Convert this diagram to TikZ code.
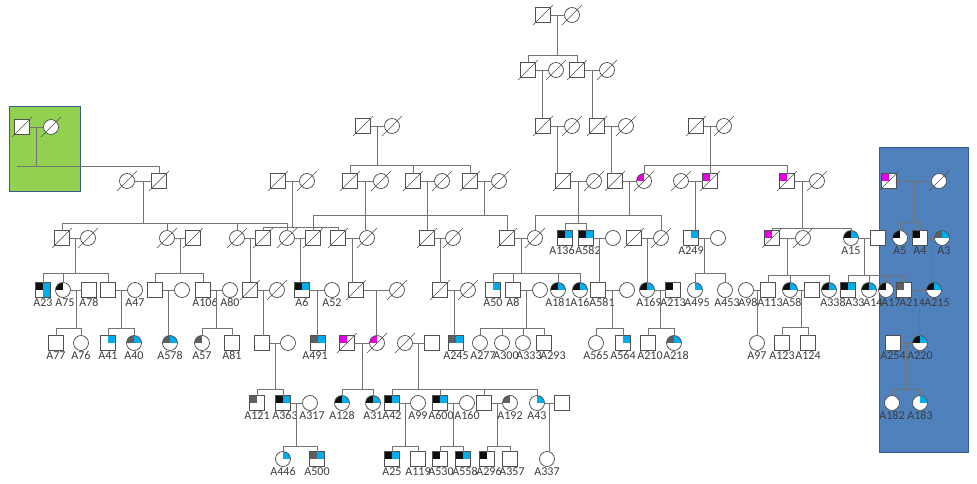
\documentclass[tikz,border=0pt]{standalone}
\usepackage{fontspec}
\setmainfont{Carlito}
\usetikzlibrary{calc}

\definecolor{lc}{RGB}{115,115,115}
\definecolor{oc}{RGB}{80,80,80}
\definecolor{kc}{RGB}{15,15,15}
\definecolor{bc}{RGB}{0,172,236}
\definecolor{gc}{RGB}{95,95,95}
\definecolor{mc}{RGB}{226,0,226}
\definecolor{tc}{RGB}{60,60,60}
\definecolor{boxb}{RGB}{79,129,189}
\definecolor{boxg}{RGB}{146,208,80}
\definecolor{boxe}{RGB}{56,93,138}

\tikzset{
  sym/.style={draw=oc, line width=0.75pt, fill=white, minimum size=15pt, inner sep=0pt, outer sep=0pt, label distance=3.5pt},
  mal/.style={sym, rectangle},
  fem/.style={sym, circle},
  q/.style 2 args={path picture={
    \fill[#1] (path picture bounding box.center) rectangle (path picture bounding box.north west);
    \fill[#2] (path picture bounding box.center) rectangle (path picture bounding box.north east);}},
  qq/.style n args={3}{path picture={
    \fill[#1] (path picture bounding box.center) rectangle (path picture bounding box.north west);
    \fill[#2] (path picture bounding box.center) rectangle (path picture bounding box.north east);
    \fill[#3] (path picture bounding box.center) rectangle (path picture bounding box.south east);}},
  lab/.style={text=tc, font=\fontsize{12}{13}\selectfont, inner sep=1pt},
  lb/.style={label={[lab]below:#1}},
  lbs/.style 2 args={label={[lab,xshift=#2]below:#1}},
  rel/.style={draw=lc, line width=0.75pt},
  slash/.style={draw=oc, line width=0.6pt}
}

\newcommand{\wed}[2]{\draw[rel] (#1.east) -- (#2.west);}
\newcommand{\kids}[4]{%
  \coordinate (mid) at ($(#1)!.5!(#2)$);
  \draw[rel] (mid) -- (mid |- 0,#3);
  \foreach \k in {#4} \draw[rel] (mid |- 0,#3) -- (\k.north |- 0,#3) -- (\k.north);
}
\newcommand{\onekid}[3]{%
  \coordinate (mid) at ($(#1)!.5!(#2)$);
  \draw[rel] (mid) -- (mid |- #3.north);
}

\begin{document}
\begin{tikzpicture}[x=1pt,y=-1pt]
\useasboundingbox (0,0) rectangle (977,484);
\fill[white] (0,0) rectangle (977,484);
\filldraw[fill=boxg, draw=boxe, line width=1pt] (9,107) rectangle (80,191);
\filldraw[fill=boxb, draw=boxe, line width=1pt] (879,148) rectangle (968,452);

\node[mal] (g1m) at (543,15) {};
\node[fem] (g1f) at (572,15) {};

\node[mal] (g2ma) at (528,70) {};
\node[fem] (g2fa) at (556,70) {};
\node[mal] (g2mb) at (577,70) {};
\node[fem] (g2fb) at (607,70) {};

\node[mal] (grm) at (22,127) {};
\node[fem] (grf) at (51,127) {};
\node[mal] (g3ma) at (363,126) {};
\node[fem] (g3fa) at (392,126) {};
\node[mal] (g3mb) at (543,126) {};
\node[fem] (g3fb) at (572,126) {};
\node[mal] (g3mc) at (597,126) {};
\node[fem] (g3fc) at (626,126) {};
\node[mal] (g3md) at (696,126) {};
\node[fem] (g3fd) at (724,126) {};

\node[fem] (h1f) at (127,181) {};
\node[mal] (h1m) at (159,181) {};
\node[mal] (h2m) at (278,181) {};
\node[fem] (h2f) at (307,181) {};
\node[mal] (h3m) at (350,181) {};
\node[fem] (h3f) at (381,181) {};
\node[mal] (h4m) at (413,181) {};
\node[fem] (h4f) at (442,181) {};
\node[mal] (h5m) at (470,181) {};
\node[fem] (h5f) at (499,181) {};
\node[mal] (h6m) at (563,181) {};
\node[fem] (h6f) at (594,181) {};
\node[mal] (h7m) at (615,181) {};
\node[fem, q={mc}{white}] (h7f) at (644,181) {};
\node[fem] (h8f) at (681,181) {};
\node[mal, q={mc}{white}] (h8m) at (710,181) {};
\node[mal, q={mc}{white}] (h9m) at (787,181) {};
\node[fem] (h9f) at (817,181) {};
\node[mal, q={mc}{white}] (bm) at (889,181) {};
\node[fem] (bf) at (939,181) {};

\node[mal] (i1m) at (62,238) {};
\node[fem] (i1f) at (88,238) {};
\node[fem] (i2f) at (167,238) {};
\node[mal] (i2m) at (193,238) {};
\node[fem] (i3f) at (237,238) {};
\node[mal] (i3m) at (263,238) {};
\node[fem] (i4f) at (287,238) {};
\node[mal] (i4m) at (313,238) {};
\node[mal] (i5m) at (338,238) {};
\node[fem] (i5f) at (367,238) {};
\node[mal] (i6m) at (427,238) {};
\node[fem] (i6f) at (453,238) {};
\node[mal] (i7m) at (507,238) {};
\node[fem] (i7f) at (535,238) {};
\node[mal, q={kc}{bc}, lbs={A136}{-3pt}] (a136) at (565,238) {};
\node[mal, q={kc}{bc}, lbs={A582}{2pt}] (a582) at (586,238) {};
\node[fem] (i8f) at (613,238) {};
\node[mal] (i9m) at (634,238) {};
\node[fem] (i9f) at (661,238) {};
\node[mal, q={white}{bc}, lb=A249] (a249) at (691,238) {};
\node[fem] (i10f) at (718,238) {};
\node[mal, q={mc}{white}] (i11m) at (772,238) {};
\node[fem] (i11f) at (803,238) {};
\node[fem, q={kc}{bc}, lb=A15] (a15) at (851,238) {};
\node[mal] (i12m) at (878,238) {};
\node[fem, q={kc}{white}, lb=A5] (a5) at (900,238) {};
\node[mal, q={kc}{white}, lb=A4] (a4) at (920,238) {};
\node[fem, q={gc}{bc}, lbs={A3}{2pt}] (a3) at (942,238) {};

\node[mal, qq={kc}{bc}{bc}, lb=A23] (a23) at (43,290) {};
\node[fem, q={kc}{white}, lbs={A75}{2pt}] (a75) at (63,290) {};
\node[mal, lb=A78] (a78) at (89,290) {};
\node[mal] (j1m) at (108,290) {};
\node[fem, lb=A47] (a47) at (135,290) {};
\node[mal] (j2m) at (155,290) {};
\node[fem] (j2f) at (182,290) {};
\node[mal, lbs={A106}{2pt}] (a106) at (203,290) {};
\node[fem, lb=A80] (a80) at (230,290) {};
\node[mal] (j3m) at (250,290) {};
\node[fem] (j3f) at (277,290) {};
\node[mal, q={kc}{bc}, lb=A6] (a6) at (302,290) {};
\node[fem, lb=A52] (a52) at (332,290) {};
\node[mal] (j4m) at (356,290) {};
\node[fem] (j4f) at (397,290) {};
\node[mal] (j5m) at (440,290) {};
\node[fem] (j5f) at (468,290) {};
\node[mal, q={white}{bc}, lb=A50] (a50) at (493,290) {};
\node[mal, lb=A8] (a8) at (513,290) {};
\node[fem] (j6f) at (540,290) {};
\node[fem, q={kc}{bc}, lb=A181] (a181) at (558,290) {};
\node[fem, q={kc}{bc}, lb=A16] (a16) at (580,290) {};
\node[mal, lbs={A581}{4pt}] (a581) at (598,290) {};
\node[fem] (j7f) at (627,290) {};
\node[fem, q={kc}{bc}, lbs={A169}{2pt}] (a169) at (647,290) {};
\node[mal, q={kc}{white}, lb=A213] (a213) at (673,290) {};
\node[fem, q={white}{bc}, lbs={A495}{2pt}] (a495) at (695,290) {};
\node[fem, lbs={A453}{2pt}] (a453) at (725,290) {};
\node[fem, lbs={A98}{2pt}] (a98) at (746,290) {};
\node[mal, lbs={A113}{2pt}] (a113) at (768,290) {};
\node[fem, q={kc}{bc}, lbs={A58}{2pt}] (a58) at (790,290) {};
\node[mal] (j8m) at (812,290) {};
\node[fem, q={kc}{bc}, lbs={A338}{4pt}] (a338) at (829,290) {};
\node[mal, q={kc}{bc}, lbs={A33}{7pt}] (a33) at (848,290) {};
\node[fem, q={kc}{bc}, lbs={A14}{4pt}] (a14) at (869,290) {};
\node[fem, q={kc}{white}, lbs={A17}{5pt}] (a17) at (886,290) {};
\node[mal, q={gc}{white}, lbs={A214}{8pt}] (a214) at (904,290) {};
\node[fem, q={kc}{bc}, lbs={A215}{3pt}] (a215) at (934,290) {};

\node[mal, lb=A77] (a77) at (56,343) {};
\node[fem, lb=A76] (a76) at (81,343) {};
\node[mal, q={white}{bc}, lb=A41] (a41) at (108,343) {};
\node[fem, q={gc}{bc}, lb=A40] (a40) at (134,343) {};
\node[fem, q={gc}{bc}, lb=A578] (a578) at (170,343) {};
\node[fem, q={gc}{white}, lb=A57] (a57) at (202,343) {};
\node[mal, lb=A81] (a81) at (232,343) {};
\node[mal] (k1m) at (262,343) {};
\node[fem] (k1f) at (288,343) {};
\node[mal, q={gc}{bc}, lbs={A491}{-3pt}] (a491) at (318,343) {};
\node[mal, q={mc}{white}] (k2m) at (347,343) {};
\node[fem, q={mc}{white}] (k2f) at (377,343) {};
\node[fem] (k3f) at (405,343) {};
\node[mal] (k3m) at (432,343) {};
\node[mal, q={gc}{bc}, lb=A245] (a245) at (456,343) {};
\node[fem, lbs={A277}{3pt}] (a277) at (480,343) {};
\node[fem, lbs={A300}{4pt}] (a300) at (502,343) {};
\node[fem, lbs={A333}{6pt}] (a333) at (523,343) {};
\node[mal, lbs={A293}{9pt}] (a293) at (544,343) {};
\node[fem, lb=A565] (a565) at (596,343) {};
\node[mal, q={white}{bc}, lb=A564] (a564) at (623,343) {};
\node[mal, lbs={A210}{2pt}] (a210) at (648,343) {};
\node[fem, q={gc}{bc}, lbs={A218}{2pt}] (a218) at (674,343) {};
\node[fem, lb=A97] (a97) at (757,343) {};
\node[mal, lb=A123] (a123) at (782,343) {};
\node[mal, lb=A124] (a124) at (808,343) {};
\node[mal, lb=A254] (a254) at (893,343) {};
\node[fem, q={kc}{bc}, lb=A220] (a220) at (920,343) {};

\node[mal, q={gc}{white}, lb=A121] (a121) at (257,403) {};
\node[mal, q={kc}{bc}, lbs={A363}{2pt}] (a363) at (283,403) {};
\node[fem, lbs={A317}{2pt}] (a317) at (310,403) {};
\node[fem, q={kc}{bc}, lb=A128] (a128) at (342,403) {};
\node[fem, q={kc}{bc}, lb=A31] (a31) at (373,403) {};
\node[mal, q={kc}{bc}, lb=A42] (a42) at (392,403) {};
\node[fem, lb=A99] (a99) at (418,403) {};
\node[mal, q={kc}{bc}, lbs={A600}{1pt}] (a600) at (440,403) {};
\node[fem, lb=A160] (a160) at (467,403) {};
\node[mal] (l1m) at (484,403) {};
\node[fem, q={gc}{white}, lb=A192] (a192) at (510,403) {};
\node[fem, q={white}{bc}, lb=A43] (a43) at (537,403) {};
\node[mal] (l2m) at (562,403) {};
\node[fem, lb=A182] (a182) at (892,403) {};
\node[fem, q={white}{bc}, lb=A183] (a183) at (920,403) {};

\node[fem, q={white}{bc}, lb=A446] (a446) at (283,459) {};
\node[mal, q={gc}{bc}, lb=A500] (a500) at (317,459) {};
\node[mal, q={kc}{bc}, lb=A25] (a25) at (392,459) {};
\node[mal, lb=A119] (a119) at (418,459) {};
\node[mal, q={kc}{white}, lbs={A530}{1pt}] (a530) at (440,459) {};
\node[mal, q={kc}{bc}, lbs={A558}{2pt}] (a558) at (463,459) {};
\node[mal, q={kc}{white}, lbs={A296}{2pt}] (a296) at (487,459) {};
\node[mal, lbs={A357}{2pt}] (a357) at (510,459) {};
\node[fem, lb=A337] (a337) at (547,459) {};

\wed{g1m}{g1f}
\kids{g1m}{g1f}{55}{g2ma,g2mb}
\wed{g2ma}{g2fa}
\wed{g2mb}{g2fb}
\onekid{g2ma}{g2fa}{g3mb}
\onekid{g2mb}{g2fb}{g3mc}

\wed{grm}{grf}
\coordinate (gl) at (17,166);
\coordinate (mid) at ($(grm)!.5!(grf)$);
\draw[rel] (mid) -- (mid |- gl);
\draw[rel] (gl) -| (h1m.north);
\wed{g3ma}{g3fa}
\kids{g3ma}{g3fa}{165}{h3m,h4m,h5m}
\wed{g3mb}{g3fb}
\onekid{g3mb}{g3fb}{h6m}
\wed{g3mc}{g3fc}
\onekid{g3mc}{g3fc}{h7m}
\wed{g3md}{g3fd}
\kids{g3md}{g3fd}{165}{h7f,h8m,h9m}

\wed{h1f}{h1m}
\kids{h1f}{h1m}{223}{i1m,i2f,i3f,i4f}
\wed{h2m}{h2f}
\kids{h2m}{h2f}{227}{i3m,i4m,i5m}
\wed{h3m}{h3f}
\onekid{h3m}{h3f}{i5f}
\wed{h4m}{h4f}
\onekid{h4m}{h4f}{i6m}
\wed{h5m}{h5f}
\kids{h5m}{h5f}{215}{i4m,i7m}
\wed{h6m}{h6f}
\kids{h6m}{h6f}{223}{a136,a582}
\wed{h7m}{h7f}
\kids{h7m}{h7f}{215}{i7f,i9f}
\wed{h8f}{h8m}
\onekid{h8f}{h8m}{a249}
\wed{h9m}{h9f}
\kids{h9m}{h9f}{228}{i11m,a15}
\wed{bm}{bf}
\kids{bm}{bf}{222}{a5,a4}

\wed{i1m}{i1f}
\kids{i1m}{i1f}{273}{a23,a75,j1m}
\wed{i2f}{i2m}
\kids{i2f}{i2m}{273}{j2m,a106}
\wed{i3f}{i3m}
\onekid{i3f}{i3m}{j3m}
\wed{i4f}{i4m}
\onekid{i4f}{i4m}{a6}
\wed{i5m}{i5f}
\onekid{i5m}{i5f}{j4m}
\wed{i6m}{i6f}
\onekid{i6m}{i6f}{j5m}
\wed{i7m}{i7f}
\kids{i7m}{i7f}{273}{a50,a8,a181,a16}
\wed{a582}{i8f}
\onekid{a582}{i8f}{a581}
\wed{i9m}{i9f}
\onekid{i9m}{i9f}{a169}
\wed{a249}{i10f}
\kids{a249}{i10f}{273}{a495,a453}
\wed{i11m}{i11f}
\kids{i11m}{i11f}{275}{a113,a58,a338}
\wed{a15}{i12m}
\kids{a15}{i12m}{275}{a33,a14,a17,a214}
\wed{a4}{a3}
\onekid{a4}{a3}{a215}

\wed{a75}{a78}
\kids{a75}{a78}{328}{a77,a76}
\wed{j1m}{a47}
\kids{j1m}{a47}{328}{a41,a40}
\wed{j2m}{j2f}
\onekid{j2m}{j2f}{a578}
\wed{a106}{a80}
\kids{a106}{a80}{328}{a57,a81}
\wed{j3m}{j3f}
\onekid{j3m}{j3f}{k1m}
\wed{a6}{a52}
\onekid{a6}{a52}{a491}
\wed{j4m}{j4f}
\onekid{j4m}{j4f}{k2f}
\wed{j5m}{j5f}
\onekid{j5m}{j5f}{a245}
\wed{a8}{j6f}
\kids{a8}{j6f}{328}{a277,a300,a333,a293}
\wed{a581}{j7f}
\kids{a581}{j7f}{328}{a565,a564}
\wed{a169}{a213}
\kids{a169}{a213}{328}{a210,a218}
\wed{a98}{a113}
\onekid{a98}{a113}{a97}
\wed{a58}{j8m}
\kids{a58}{j8m}{327}{a123,a124}
\wed{a214}{a215}
\onekid{a214}{a215}{a220}

\wed{k1m}{k1f}
\kids{k1m}{k1f}{389}{a121,a363}
\wed{k2m}{k2f}
\kids{k2m}{k2f}{389}{a128,a31}
\wed{k3f}{k3m}
\kids{k3f}{k3m}{389}{a42,a600,l1m,a43}
\wed{a254}{a220}
\kids{a254}{a220}{389}{a182,a183}

\wed{a363}{a317}
\kids{a363}{a317}{446}{a446,a500}
\wed{a42}{a99}
\kids{a42}{a99}{446}{a25,a119}
\wed{a600}{a160}
\kids{a600}{a160}{446}{a530,a558}
\wed{l1m}{a192}
\kids{l1m}{a192}{446}{a296,a357}
\wed{a43}{l2m}
\onekid{a43}{l2m}{a337}

\foreach \n in {g1m,g1f,g2ma,g2fa,g2mb,g2fb,grm,grf,g3ma,g3fa,g3mb,g3fb,g3mc,g3fc,g3md,g3fd,
  h1f,h1m,h2m,h2f,h3m,h3f,h4m,h4f,h5m,h5f,h6m,h6f,h7m,h7f,h8f,h8m,h9m,h9f,bm,bf,
  i1m,i1f,i2f,i2m,i3f,i3m,i4f,i4m,i5m,i5f,i6m,i6f,i7m,i7f,i9m,i9f,i11m,i11f,
  j3m,j3f,j4m,j4f,j5m,j5f,k2m,k2f,k3f}
  \draw[slash] ([shift={(-10pt,-10pt)}]\n.center) -- ([shift={(10pt,10pt)}]\n.center);
\end{tikzpicture}
\end{document}
